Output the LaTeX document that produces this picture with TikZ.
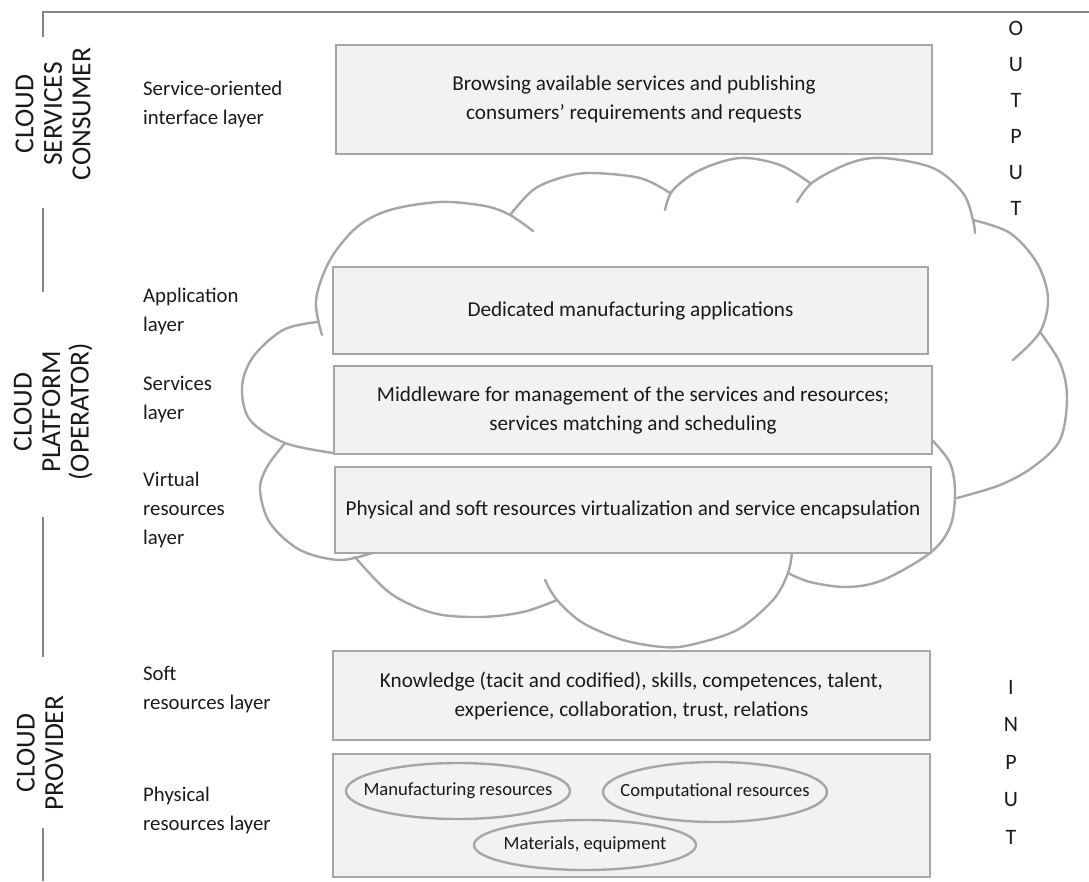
\documentclass[tikz,border=0pt]{standalone}
\usepackage{fontspec}
\setmainfont{Carlito}
\definecolor{boxfill}{HTML}{F2F2F2}
\definecolor{boxline}{HTML}{A6A6A6}
\definecolor{frameline}{HTML}{858585}
\definecolor{txt}{HTML}{1A1A1A}
\begin{document}
\begin{tikzpicture}[x=1pt,y=-1pt,
 box/.style={draw=boxline, fill=boxfill, line width=2.6pt, inner sep=0pt, align=center, font=\fontsize{21.2}{29}\selectfont, text=txt},
 ovaltext/.style={inner sep=0pt, font=\fontsize{18.6}{22}\selectfont, text=txt},
 ovalline/.style={draw=boxline, line width=2.4pt},
 cloudline/.style={draw=boxline, line width=2.4pt, line cap=round},
 layerlabel/.style={anchor=west, align=left, inner sep=0pt, font=\fontsize{20.8}{29}\selectfont, text=txt},
 grouplabel/.style={rotate=90, align=center, inner sep=0pt, font=\fontsize{27.5}{28.5}\selectfont, text=txt},
 frame/.style={draw=frameline, line width=2.6pt},
 io/.style={align=center, inner sep=0pt, text=txt}
]
\useasboundingbox (0,0) rectangle (1089,881);

% cloud
\draw[cloudline] plot[smooth, tension=0.55] coordinates {(322,335) (316,300) (330,260) (357,227) (390,210) (440,202) (485,206) (510,215) (533,231)};
\draw[cloudline] plot[smooth, tension=0.55] coordinates {(510,215) (533,190) (560,178) (590,173) (640,178) (670,193)};
\draw[cloudline] plot[smooth, tension=0.55] coordinates {(665,210) (673,190) (700,170) (740,158) (780,165) (810,183)};
\draw[cloudline] plot[smooth, tension=0.55] coordinates {(797,202) (813,182) (850,163) (883,158) (933,168) (963,193) (973,220) (975,233)};
\draw[cloudline] plot[smooth, tension=0.55] coordinates {(973,220) (1010,233) (1037,263) (1048,298) (1040,332) (1013,360)};
\draw[cloudline] plot[smooth, tension=0.55] coordinates {(1040,332) (1060,363) (1067,397) (1060,440) (1033,467) (1000,485) (957,498)};
\draw[cloudline] plot[smooth, tension=0.55] coordinates {(932,440) (950,463) (955,493) (950,527) (930,553) (883,580) (847,587) (810,582) (788,573)};
\draw[cloudline] plot[smooth, tension=0.55] coordinates {(792,552) (788,573) (773,600) (737,630) (690,645) (663,647) (623,640) (583,623) (557,600) (545,580)};
\draw[cloudline] plot[smooth, tension=0.55] coordinates {(557,600) (523,612) (480,617) (433,613) (390,593) (355,557)};
\draw[cloudline] plot[smooth, tension=0.55] coordinates {(375,552) (340,560) (300,550) (270,523) (260,490) (267,467) (285,443)};
\draw[cloudline] plot[smooth, tension=0.55] coordinates {(317,322) (283,330) (253,357) (242,387) (250,420) (285,443) (333,453)};

% frame
\coordinate (f0) at (43,37);
\coordinate (f1) at (43,12);
\coordinate (f2) at (1089,12);
\draw[frame] (f0) -- (f1) -- (f2);
\coordinate (f3) at (43,208);
\coordinate (f4) at (43,292);
\draw[frame] (f3) -- (f4);
\coordinate (f5) at (43,517);
\coordinate (f6) at (43,657);
\draw[frame] (f5) -- (f6);
\coordinate (f7) at (43,828);
\coordinate (f8) at (43,881);
\draw[frame] (f7) -- (f8);

% group labels
\node[grouplabel] (g1) at (53,114) {CLOUD\\SERVICES\\CONSUMER};
\node[grouplabel] (g2) at (53,412) {CLOUD\\PLATFORM\\(OPERATOR)};
\node[grouplabel] (g3) at (40,753) {CLOUD\\PROVIDER};

% layer labels
\node[layerlabel] (l1) at (143,104) {Service-oriented\\interface layer};
\node[layerlabel] (l2) at (143,311) {Application\\layer};
\node[layerlabel] (l3) at (143,400) {Services\\layer};
\node[layerlabel] (l4) at (143,510) {Virtual\\resources\\layer};
\node[layerlabel] (l5) at (143,690) {Soft\\resources layer};
\node[layerlabel] (l6) at (143,810) {Physical\\resources layer};

% boxes
\node[box, minimum width=596pt, minimum height=109pt] (b1) at (634,99.5) {Browsing available services and publishing\\consumers’ requirements and requests};
\node[box, minimum width=595pt, minimum height=87pt] (b2) at (630.5,310.5) {Dedicated manufacturing applications};
\node[box, minimum width=598pt, minimum height=88pt] (b3) at (633,410) {Middleware for management of the services and resources;\\services matching and scheduling};
\node[box, minimum width=596pt, minimum height=86pt] (b4) at (633,510) {Physical and soft resources virtualization and service encapsulation};
\node[box, minimum width=597pt, minimum height=89pt] (b5) at (631.5,695.5) {Knowledge (tacit and codified), skills, competences, talent,\\experience, collaboration, trust, relations};
\node[box, minimum width=597pt, minimum height=123pt] (b6) at (631.5,815.5) {};

% ellipses
\node[ovaltext] (e1) at (458,791) {Manufacturing resources};
\draw[ovalline] (e1.center) ellipse [x radius=112pt, y radius=28pt];
\node[ovaltext] (e2) at (715,792) {Computational resources};
\draw[ovalline] (e2.center) ellipse [x radius=112pt, y radius=30pt];
\node[ovaltext] (e3) at (585,845) {Materials, equipment};
\draw[ovalline] (e3.center) ellipse [x radius=111pt, y radius=25pt];

% output / input
\node[io, font=\fontsize{22}{36}\selectfont] (out) at (1016,118) {O\\U\\T\\P\\U\\T};
\node[io, font=\fontsize{22}{37.5}\selectfont] (in) at (1011,762) {I\\N\\P\\U\\T};
\end{tikzpicture}
\end{document}
